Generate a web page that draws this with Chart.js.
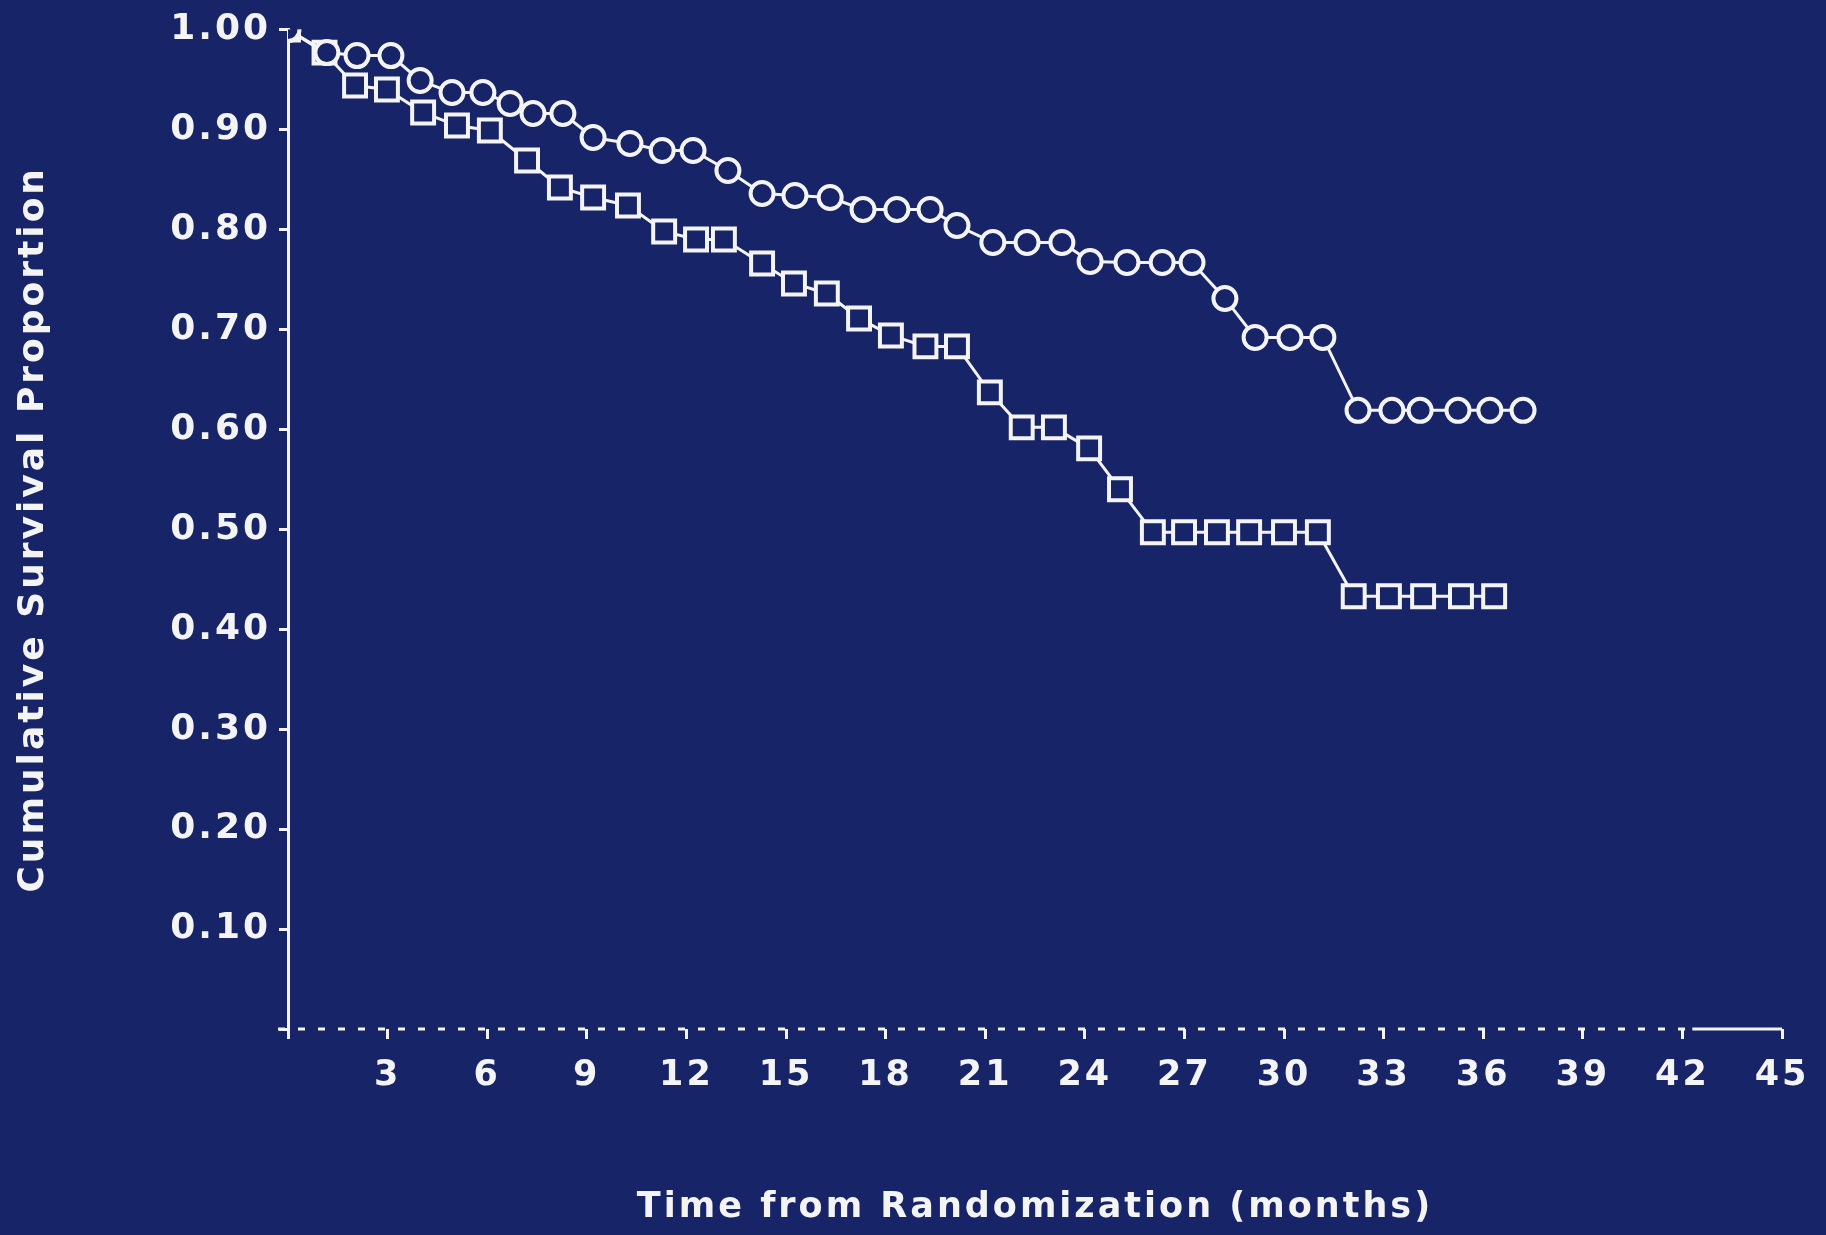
<!DOCTYPE html>
<html>
<head>
<meta charset="utf-8">
<script src="https://cdn.jsdelivr.net/npm/chart.js@4/dist/chart.umd.min.js"></script>
<style>
  html, body { margin: 0; padding: 0; background: #172468; }
  #wrap { width: 1826px; height: 1235px; position: relative; }
</style>
</head>
<body>
<div id="wrap"><canvas id="survivalChart"></canvas></div>
<script>
// months from randomization and survival proportion
const circleMonths = [0, 1.17, 2.08, 3.1, 3.98, 4.94, 5.87, 6.69, 7.38, 8.28, 9.19, 10.3, 11.27, 12.2,
  13.25, 14.28, 15.27, 16.33, 17.32, 18.34, 19.34, 20.15, 21.23, 22.26, 23.31, 24.16, 25.27, 26.33,
  27.23, 28.22, 29.13, 30.18, 31.17, 32.23, 33.25, 34.1, 35.24, 36.2, 37.2];
const circleSurvival = [1.0, 0.977, 0.974, 0.974, 0.949, 0.937, 0.937, 0.926, 0.916, 0.916, 0.892, 0.886, 0.879, 0.879,
  0.859, 0.836, 0.834, 0.832, 0.82, 0.82, 0.82, 0.804, 0.787, 0.787, 0.787, 0.768, 0.767, 0.767,
  0.767, 0.731, 0.692, 0.692, 0.692, 0.619, 0.619, 0.619, 0.619, 0.619, 0.619];

const squareMonths = [0, 1.1, 2.02, 2.98, 4.07, 5.09, 6.08, 7.2, 8.19, 9.19, 10.24, 11.33, 12.29, 13.13,
  14.28, 15.24, 16.23, 17.2, 18.16, 19.2, 20.15, 21.14, 22.1, 23.07, 24.13, 25.06, 26.05, 26.99,
  27.98, 28.95, 30.0, 31.02, 32.1, 33.16, 34.19, 35.33, 36.33];
const squareSurvival = [1.0, 0.977, 0.944, 0.94, 0.917, 0.904, 0.899, 0.869, 0.842, 0.832, 0.824, 0.798, 0.79, 0.79,
  0.766, 0.746, 0.736, 0.711, 0.694, 0.683, 0.683, 0.637, 0.602, 0.602, 0.581, 0.54, 0.497, 0.497,
  0.497, 0.497, 0.497, 0.497, 0.433, 0.433, 0.433, 0.433, 0.433];

const xTickValues = [3, 6, 9, 12, 15, 18, 21, 24, 27, 30, 33, 36, 39, 42, 45];
const yTickValues = [0.1, 0.2, 0.3, 0.4, 0.5, 0.6, 0.7, 0.8, 0.9, 1.0];

const navy = "#172468";
const white = "#f4f4f4";

const toPoints = (xs, ys) => xs.map((x, i) => ({ x, y: ys[i] }));

// wider letter spacing like the old slide lettering
const spacingPlugin = {
  id: "spacing",
  beforeInit(chart) { chart.ctx.letterSpacing = "3px"; },
  beforeUpdate(chart) { chart.ctx.letterSpacing = "3px"; },
  beforeDraw(chart) { chart.ctx.letterSpacing = "3px"; },
};

// the time axis is a broken dashed line in the original, solid near the end
const dashedAxisPlugin = {
  id: "dashedAxis",
  afterDraw(chart) {
    const { ctx, scales: { x, y } } = chart;
    const yPix = y.getPixelForValue(0);
    ctx.save();
    ctx.strokeStyle = white;
    ctx.lineWidth = 3;
    ctx.setLineDash([7, 13]);
    ctx.beginPath();
    ctx.moveTo(x.getPixelForValue(0) - 10, yPix);
    ctx.lineTo(x.getPixelForValue(42.3), yPix);
    ctx.stroke();
    ctx.setLineDash([]);
    ctx.beginPath();
    ctx.moveTo(x.getPixelForValue(42.3), yPix);
    ctx.lineTo(x.getPixelForValue(45), yPix);
    ctx.stroke();
    ctx.restore();
  },
};

const ctx = document.getElementById("survivalChart").getContext("2d");
const survivalChart = new Chart(ctx, {
  type: "line",
  plugins: [spacingPlugin, dashedAxisPlugin],
  data: {
    datasets: [
      {
        label: "circles",
        data: toPoints(circleMonths, circleSurvival),
        borderColor: white,
        borderWidth: 3,
        pointStyle: "circle",
        pointRadius: 11.5,
        pointBorderWidth: 4,
        pointBorderColor: white,
        pointBackgroundColor: navy,
        tension: 0,
      },
      {
        label: "squares",
        data: toPoints(squareMonths, squareSurvival),
        borderColor: white,
        borderWidth: 3,
        pointStyle: "rect",
        pointRadius: 15.5,
        pointBorderWidth: 4,
        pointBorderColor: white,
        pointBackgroundColor: navy,
        tension: 0,
      },
    ],
  },
  options: {
    responsive: true,
    maintainAspectRatio: false,
    animation: false,
    layout: {
      padding: { left: 0, right: 44, top: 29, bottom: 0 }
    },
    plugins: {
      legend: { display: false },
      tooltip: { enabled: false },
    },
    scales: {
      x: {
        type: "linear",
        min: 0,
        max: 45,
        afterBuildTicks: scale => {
          scale.ticks = [0].concat(xTickValues).map(v => ({ value: v }));
        },
        afterFit: scale => { scale.height = 206; },
        border: { display: false },
        grid: { drawOnChartArea: false, drawTicks: true, tickLength: 10, color: white, lineWidth: 3 },
        ticks: {
          color: white,
          padding: 16,
          maxRotation: 0,
          autoSkip: false,
          font: { family: "DejaVu Sans", weight: "bold", size: 35 },
          callback: value => (value === 0 ? "" : String(value)),
        },
        title: {
          display: true,
          text: "Time from Randomization (months)",
          color: white,
          padding: { top: 0, bottom: 6 },
          font: { family: "DejaVu Sans", weight: "bold", size: 35 },
        },
      },
      y: {
        type: "linear",
        min: 0,
        max: 1.0,
        afterBuildTicks: scale => {
          scale.ticks = [0].concat(yTickValues).map(v => ({ value: v }));
        },
        afterFit: scale => { scale.width = 288; },
        border: { display: true, color: white, width: 3 },
        grid: { drawOnChartArea: false, drawTicks: true, tickLength: 9, color: white, lineWidth: 3 },
        ticks: {
          color: white,
          padding: 8,
          font: { family: "DejaVu Sans", weight: "bold", size: 36 },
          callback: value => (value === 0 ? "" : value.toFixed(2)),
        },
        title: {
          display: true,
          text: "Cumulative Survival Proportion",
          color: white,
          padding: { top: 12, bottom: 0 },
          font: { family: "DejaVu Sans", weight: "bold", size: 36 },
        },
      },
    },
  },
});
</script>
</body>
</html>
